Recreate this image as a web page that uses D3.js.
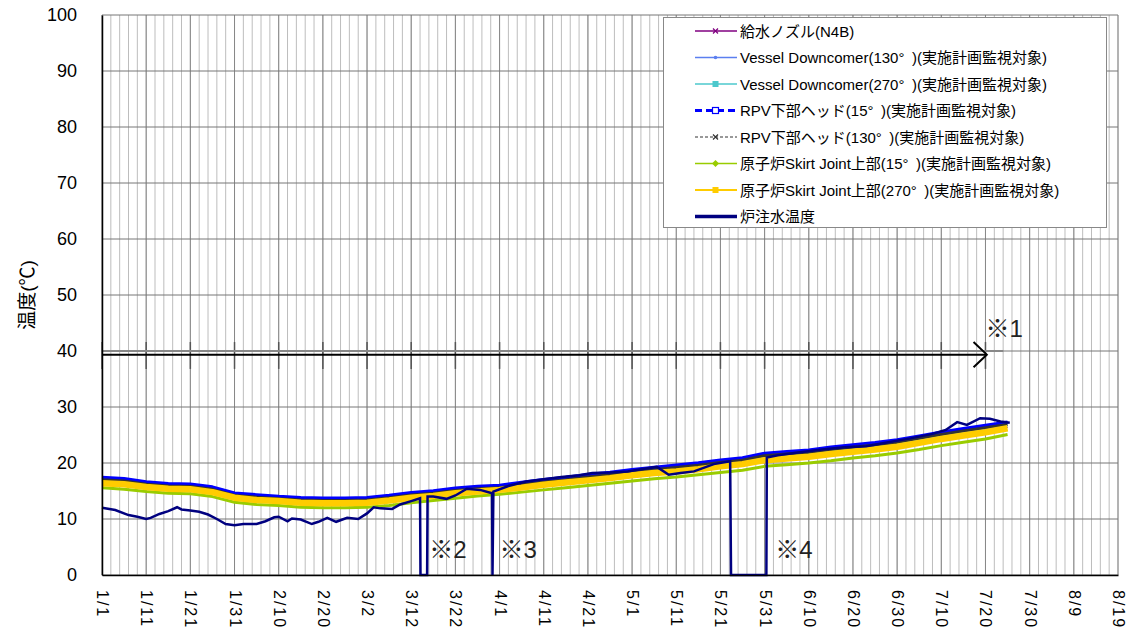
<!DOCTYPE html>
<html>
<head>
<meta charset="utf-8">
<script src="https://cdn.jsdelivr.net/npm/d3@7"></script>
<style>
  body { margin: 0; background: #fff; }
  text { font-family: "Liberation Sans", "Noto Sans CJK JP", sans-serif; }
</style>
</head>
<body>
<script>
const width = 1141;
const height = 635;

// day offsets from 1/1 for the sampled reactor temperatures
const sampleDays = [0, 5, 10, 15, 20, 25, 30, 35, 40, 45, 50, 55, 60, 65, 70, 75, 80, 85, 90, 95,
  100, 105, 110, 115, 120, 125, 130, 135, 140, 145, 150, 155, 160, 165, 170, 175, 180, 185, 190, 195, 200, 205];

const feedNozzle = [16.5, 16.3, 15.7, 15.4, 15.3, 14.8, 13.7, 13.4, 13.1, 12.9, 12.8, 12.8, 12.9, 13.3, 13.8, 14.1, 14.6, 14.9, 15.1, 15.6,
  16.1, 16.5, 17.0, 17.4, 17.9, 18.3, 18.7, 19.1, 19.6, 20.0, 20.8, 21.1, 21.4, 21.9, 22.3, 22.7, 23.2, 23.9, 24.6, 25.2, 25.8, 26.4];
const downcomer130 = [17.2, 17.0, 16.4, 16.1, 16.0, 15.5, 14.4, 14.1, 13.8, 13.6, 13.5, 13.5, 13.6, 14.0, 14.5, 14.8, 15.3, 15.6, 15.8, 16.3,
  16.8, 17.2, 17.7, 18.1, 18.6, 19.0, 19.4, 19.8, 20.3, 20.7, 21.5, 21.8, 22.1, 22.6, 23.0, 23.4, 23.9, 24.6, 25.3, 25.9, 26.5, 27.1];
const downcomer270 = [16.8, 16.6, 16.0, 15.7, 15.6, 15.1, 14.0, 13.7, 13.4, 13.2, 13.1, 13.1, 13.2, 13.6, 14.1, 14.4, 14.9, 15.2, 15.4, 15.9,
  16.4, 16.8, 17.3, 17.7, 18.2, 18.6, 19.0, 19.4, 19.9, 20.3, 21.1, 21.4, 21.7, 22.2, 22.6, 23.0, 23.5, 24.2, 24.9, 25.5, 26.1, 26.7];
const rpvHead15 = [17.4, 17.2, 16.6, 16.3, 16.2, 15.7, 14.6, 14.3, 14.0, 13.8, 13.7, 13.7, 13.8, 14.2, 14.7, 15.0, 15.5, 15.8, 16.0, 16.5,
  17.0, 17.4, 17.9, 18.3, 18.8, 19.2, 19.6, 20.0, 20.5, 20.9, 21.7, 22.0, 22.3, 22.8, 23.2, 23.6, 24.1, 24.8, 25.5, 26.1, 26.7, 27.3];
const rpvHead130 = [17.0, 16.8, 16.2, 15.9, 15.8, 15.3, 14.2, 13.9, 13.6, 13.4, 13.3, 13.3, 13.4, 13.8, 14.3, 14.6, 15.1, 15.4, 15.6, 16.1,
  16.6, 17.0, 17.5, 17.9, 18.4, 18.8, 19.2, 19.6, 20.1, 20.5, 21.3, 21.6, 21.9, 22.4, 22.8, 23.2, 23.7, 24.4, 25.1, 25.7, 26.3, 26.9];
const skirt15 = [15.6, 15.3, 14.9, 14.6, 14.5, 14.0, 13.0, 12.6, 12.4, 12.1, 12.0, 12.0, 12.1, 12.4, 12.9, 13.3, 13.7, 14.1, 14.4, 14.8,
  15.2, 15.6, 16.0, 16.4, 16.8, 17.2, 17.5, 17.9, 18.3, 18.7, 19.4, 19.7, 20.0, 20.4, 20.9, 21.3, 21.8, 22.4, 23.1, 23.7, 24.3, 25.1];
const skirt270 = [16.4, 16.2, 15.7, 15.4, 15.3, 14.8, 13.8, 13.4, 13.2, 12.9, 12.8, 12.8, 12.9, 13.3, 13.8, 14.1, 14.6, 14.9, 15.2, 15.6,
  16.1, 16.5, 16.9, 17.3, 17.8, 18.2, 18.5, 18.9, 19.4, 19.8, 20.5, 20.8, 21.1, 21.6, 22.0, 22.4, 22.9, 23.6, 24.3, 24.9, 25.5, 26.2];

// injection water temperature, own day list (drops to 0 during outages)
const injectionDays = [0, 3, 6, 8, 10, 11, 13, 15, 17, 18, 20, 22, 24, 26, 28, 30, 32, 35, 37, 39, 40, 42, 43, 45, 47.5, 49, 51, 53, 55.5, 58,
  60, 61.5, 63, 65.7, 67.5, 70, 72, 72.1, 73.6, 73.7, 75, 78, 80, 82.6, 85.6, 88.3, 88.4, 88.6, 92, 96, 100, 104, 108, 111, 115, 119, 122,
  125.6, 128.3, 131, 134, 138.5, 142.2, 142.4, 150.4, 150.5, 153, 158, 163, 168, 173, 178, 183, 188, 191, 193.6, 195.8, 198.8, 201, 203.4, 205.5];
const injectionTemp = [12.0, 11.6, 10.7, 10.4, 10.0, 10.2, 10.9, 11.4, 12.1, 11.7, 11.5, 11.3, 10.8, 10.0, 9.1, 8.9, 9.1, 9.1, 9.6, 10.3, 10.4, 9.6, 10.1, 9.9, 9.1, 9.5, 10.2, 9.5, 10.2, 10.0,
  11.0, 12.1, 11.9, 11.8, 12.6, 13.2, 13.7, 0, 0, 14.0, 14.0, 13.6, 14.2, 15.4, 15.2, 14.6, 0, 14.9, 15.9, 16.7, 17.1, 17.5, 17.8, 18.2, 18.3, 18.5, 18.9,
  19.3, 17.9, 18.2, 18.5, 19.8, 20.3, 0, 0, 21.0, 21.4, 21.9, 22.4, 22.8, 23.0, 23.7, 24.4, 25.2, 25.9, 27.3, 26.8, 28.0, 27.9, 27.4, 27.2];

const xTickDays = [0, 10, 20, 30, 40, 50, 60, 70, 80, 90, 100, 110, 120, 130, 140, 150, 160, 170, 180, 190, 200, 210, 220, 230];
const xTickLabels = ["1/1", "1/11", "1/21", "1/31", "2/10", "2/20", "3/2", "3/12", "3/22", "4/1", "4/11", "4/21",
  "5/1", "5/11", "5/21", "5/31", "6/10", "6/20", "6/30", "7/10", "7/20", "7/30", "8/9", "8/19"];
const yTicks = [0, 10, 20, 30, 40, 50, 60, 70, 80, 90, 100];

const seriesNames = [
  "給水ノズル(N4B)",
  "Vessel Downcomer(130°\u2002)(実施計画監視対象)",
  "Vessel Downcomer(270°\u2002)(実施計画監視対象)",
  "RPV下部ヘッド(15°\u2002)(実施計画監視対象)",
  "RPV下部ヘッド(130°\u2002)(実施計画監視対象)",
  "原子炉Skirt Joint上部(15°\u2002)(実施計画監視対象)",
  "原子炉Skirt Joint上部(270°\u2002)(実施計画監視対象)",
  "炉注水温度"
];

var svg = d3.select("body")
  .append("svg")
  .attr("width", width)
  .attr("height", height);

var x = d3.scaleLinear().domain([0, 230]).range([102, 1118]);
var y = d3.scaleLinear().domain([0, 100]).range([575, 15]);

// gridlines
var grid = svg.append("g");
grid.selectAll(".minor")
  .data(d3.range(0, 231, 2))
  .join("line")
  .attr("x1", d => x(d)).attr("x2", d => x(d))
  .attr("y1", y(100)).attr("y2", y(0))
  .attr("stroke", "#bdbdbd")
  .attr("stroke-width", 1);
grid.selectAll(".major")
  .data(xTickDays)
  .join("line")
  .attr("x1", d => x(d)).attr("x2", d => x(d))
  .attr("y1", y(100)).attr("y2", y(0))
  .attr("stroke", "#888")
  .attr("stroke-width", 1);
grid.selectAll(".hgrid")
  .data(yTicks)
  .join("line")
  .attr("x1", x(0)).attr("x2", x(230))
  .attr("y1", d => y(d)).attr("y2", d => y(d))
  .attr("stroke", "#777")
  .attr("stroke-width", 1);

// the band behind the ※1 arrow (pasted strip with darker ticks)
var band = svg.append("g");
band.selectAll("line")
  .data(xTickDays.filter(d => d <= 200))
  .join("line")
  .attr("x1", d => x(d)).attr("x2", d => x(d))
  .attr("y1", y(41.6)).attr("y2", y(36.8))
  .attr("stroke", "#555")
  .attr("stroke-width", 1.5);
band.append("line")
  .attr("x1", x(0)).attr("x2", x(204))
  .attr("y1", y(40)).attr("y2", y(40))
  .attr("stroke", "#888")
  .attr("stroke-width", 2);

// series
var line = d3.line()
  .x((d, i) => x(sampleDays[i]))
  .y(d => y(d));

var plotSeries = [
  { values: feedNozzle, color: "#800080", w: 1.5 },
  { values: downcomer130, color: "#5b7ff0", w: 1.5 },
  { values: downcomer270, color: "#4cc8cc", w: 1.5 },
  { values: rpvHead15, color: "#0000ff", w: 3.5 },
  { values: rpvHead130, color: "#333333", w: 3 },
  { values: skirt15, color: "#99cc00", w: 3 },
  { values: skirt270, color: "#ffcc00", w: 6.5 }
];

svg.append("g")
  .selectAll("path")
  .data(plotSeries)
  .join("path")
  .attr("d", d => line(d.values))
  .attr("fill", "none")
  .attr("stroke", d => d.color)
  .attr("stroke-width", d => d.w)
  .attr("stroke-linejoin", "round");

var injLine = d3.line()
  .x((d, i) => x(injectionDays[i]))
  .y(d => y(d));

svg.append("path")
  .attr("d", injLine(injectionTemp))
  .attr("fill", "none")
  .attr("stroke", "#000080")
  .attr("stroke-width", 2.5)
  .attr("stroke-linejoin", "miter");

// axes
var yAxis = svg.append("g")
  .attr("transform", "translate(" + x(0) + ",0)")
  .call(d3.axisLeft(y).tickValues(yTicks).tickSize(0).tickPadding(25));
yAxis.select(".domain").attr("stroke", "#000").attr("stroke-width", 1.5);
yAxis.selectAll("text")
  .attr("font-family", "Liberation Sans, sans-serif")
  .attr("font-size", 18)
  .attr("fill", "#000");

var xAxis = svg.append("g")
  .attr("transform", "translate(0," + y(0) + ")")
  .call(d3.axisBottom(x).tickValues(xTickDays).tickSize(0).tickFormat((d, i) => xTickLabels[i]));
xAxis.select(".domain").attr("stroke", "#000").attr("stroke-width", 1.5);
xAxis.selectAll("text")
  .attr("font-family", "DejaVu Sans, sans-serif")
  .attr("font-size", 16)
  .attr("letter-spacing", 2)
  .attr("fill", "#000")
  .attr("text-anchor", "start")
  .attr("dy", null)
  .attr("y", 0)
  .attr("dominant-baseline", "central")
  .attr("transform", "translate(0,15) rotate(90)");

svg.append("text")
  .attr("transform", "translate(27,295) rotate(-90)")
  .attr("text-anchor", "middle")
  .attr("dominant-baseline", "central")
  .attr("font-size", 19)
  .text("温度(℃)");

// ※1 arrow
svg.append("line")
  .attr("x1", x(0)).attr("x2", x(200.3))
  .attr("y1", y(39.35)).attr("y2", y(39.35))
  .attr("stroke", "#000")
  .attr("stroke-width", 2);
svg.append("path")
  .attr("d", "M" + x(197.3) + "," + y(41.6) + "L" + x(200.3) + "," + y(39.35) + "L" + x(197.3) + "," + y(37.1))
  .attr("fill", "none")
  .attr("stroke", "#000")
  .attr("stroke-width", 2);

var notes = svg.append("g")
  .attr("font-size", 24)
  .style("font-family", "'Noto Sans CJK JP', sans-serif")
  .attr("fill", "#222");
notes.append("text").attr("x", x(200)).attr("y", y(42.5)).text("※1");
notes.append("text").attr("x", x(74.1)).attr("y", y(3.1)).text("※2");
notes.append("text").attr("x", x(90)).attr("y", y(3.1)).text("※3");
notes.append("text").attr("x", x(152.4)).attr("y", y(3.1)).text("※4");

// legend
var legend = svg.append("g");
legend.append("rect")
  .attr("x", 663.5).attr("y", 17.5)
  .attr("width", 443).attr("height", 210)
  .attr("fill", "#fff")
  .attr("stroke", "#888");

var legendStyles = [
  { color: "#800080", w: 1.5, dash: null, marker: "x" },
  { color: "#5b7ff0", w: 1.5, dash: null, marker: "dot" },
  { color: "#4cc8cc", w: 1.5, dash: null, marker: "sq" },
  { color: "#0000ff", w: 3, dash: "7,4", marker: "open" },
  { color: "#333333", w: 1, dash: "3,2", marker: "x" },
  { color: "#99cc00", w: 1.5, dash: null, marker: "dia" },
  { color: "#ffcc00", w: 2, dash: null, marker: "sq" },
  { color: "#000080", w: 3.5, dash: null, marker: null }
];

var rows = legend.selectAll(".row")
  .data(seriesNames)
  .join("g")
  .attr("transform", (d, i) => "translate(0," + (31 + i * 26.5) + ")");

rows.append("line")
  .attr("x1", 695).attr("x2", 737)
  .attr("y1", 0).attr("y2", 0)
  .attr("stroke", (d, i) => legendStyles[i].color)
  .attr("stroke-width", (d, i) => legendStyles[i].w)
  .attr("stroke-dasharray", (d, i) => legendStyles[i].dash);

rows.each(function(d, i) {
  var s = legendStyles[i];
  var g = d3.select(this);
  if (s.marker === "x") {
    g.append("path").attr("d", "M713,-2.5L718,2.5M713,2.5L718,-2.5")
      .attr("stroke", s.color).attr("stroke-width", 1.2);
  } else if (s.marker === "dot") {
    g.append("circle").attr("cx", 715.5).attr("cy", 0).attr("r", 1.8).attr("fill", s.color);
  } else if (s.marker === "sq") {
    g.append("rect").attr("x", 712.5).attr("y", -3).attr("width", 6).attr("height", 6).attr("fill", s.color);
  } else if (s.marker === "open") {
    g.append("rect").attr("x", 712.5).attr("y", -3).attr("width", 6).attr("height", 6)
      .attr("fill", "#fff").attr("stroke", s.color).attr("stroke-width", 1.2);
  } else if (s.marker === "dia") {
    g.append("path").attr("d", "M715.5,-3.5L719,0L715.5,3.5L712,0Z").attr("fill", s.color);
  }
});

rows.append("text")
  .attr("x", 740)
  .attr("y", 0)
  .attr("dominant-baseline", "central")
  .attr("font-size", 15)
  .attr("fill", "#000")
  .text(d => d);
</script>
</body>
</html>
